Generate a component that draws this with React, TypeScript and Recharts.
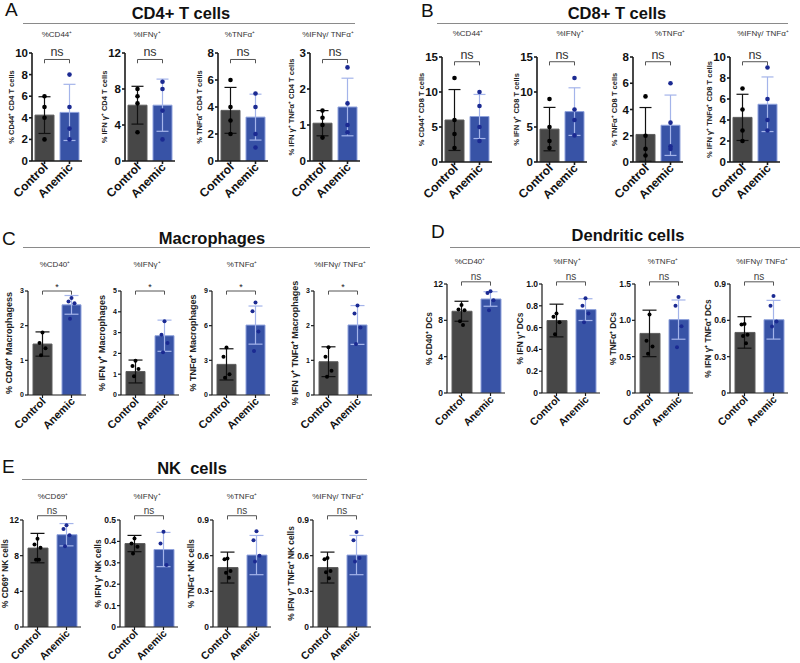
import React from 'react';
import { ComposedChart, Bar, Cell, XAxis, YAxis, Scatter, ErrorBar, ReferenceLine } from 'recharts';

// ---------- shared categories / labels ----------
const GROUPS = ['Control', 'Anemic'];

// ---------- Panel A: CD4+ T cells ----------
const cd4Titles = ['%CD44⁺', '%IFNγ⁺', '%TNFα⁺', '%IFNγ/ TNFα⁺'];
const cd4YLabels = ['% CD44⁺ CD4 T cells', '% IFN γ⁺ CD4 T cells', '% TNFα⁺ CD4 T cells', '% IFN γ⁺ TNFα⁺ CD4 T cells'];
const cd4Ticks = [[0, 2, 4, 6, 8, 10], [0, 4, 8, 12], [0, 2, 4, 6, 8], [0, 1, 2, 3]];
const cd4CtrlMean = [4.25, 6.2, 3.75, 1.05];
const cd4CtrlSd = [1.7, 2.1, 1.7, 0.35];
const cd4AnemMean = [4.5, 6.2, 3.25, 1.5];
const cd4AnemSd = [2.6, 2.9, 1.7, 0.8];
const cd4CtrlPts = [[6, 5, 4, 2], [8, 7.2, 6.4, 3.2], [6, 4, 3, 2], [1.4, 1.2, 1.0, 0.65]];
const cd4AnemPts = [[8, 5, 3, 2], [8.8, 8, 5.6, 2.4], [5, 4, 2, 1], [2.6, 1.6, 1.0, 0.8]];
const cd4Sig = ['ns', 'ns', 'ns', 'ns'];

// ---------- Panel B: CD8+ T cells ----------
const cd8Titles = ['%CD44⁺', '%IFNγ⁺', '%TNFα⁺', '%IFNγ/ TNFα⁺'];
const cd8YLabels = ['% CD44⁺ CD8 T cells', '% IFN γ⁺ CD8 T cells', '% TNFα⁺ CD8 T cells', '% IFN γ⁺ TNFα⁺ CD8 T cells'];
const cd8Ticks = [[0, 5, 10, 15], [0, 5, 10, 15], [0, 2, 4, 6, 8], [0, 2, 4, 6, 8, 10]];
const cd8CtrlMean = [6, 4.7, 2.1, 4.25];
const cd8CtrlSd = [4.35, 3.1, 2.05, 2.2];
const cd8AnemMean = [6.5, 7.2, 2.8, 5.5];
const cd8AnemSd = [3.15, 3.4, 2.3, 2.6];
const cd8CtrlPts = [[12, 6, 4, 2], [9, 5, 3, 2], [5, 2, 1, 0.5], [7, 5, 3, 2]];
const cd8AnemPts = [[10, 8, 5, 3], [12, 7.5, 6, 3.8], [6, 3, 1.2, 1], [9, 6, 4, 3]];
const cd8Sig = ['ns', 'ns', 'ns', 'ns'];

// ---------- Panel C: Macrophages ----------
const macTitles = ['%CD40⁺', '%IFNγ⁺', '%TNFα⁺', '%IFNγ/ TNFα⁺'];
const macYLabels = ['% CD40⁺ Macrophagess', '% IFN γ⁺ Macrophages', '% TNFα⁺ Macrophages', '% IFN γ⁺ TNFα⁺ Macrophages'];
const macTicks = [[0, 1, 2, 3], [0, 1, 2, 3, 4, 5], [0, 3, 6, 9], [0, 1, 2, 3]];
const macCtrlMean = [1.47, 1.13, 2.65, 0.96];
const macCtrlSd = [0.35, 0.55, 1.35, 0.43];
const macAnemMean = [2.6, 2.85, 6.05, 2.02];
const macAnemSd = [0.27, 0.75, 1.65, 0.56];
const macCtrlPts = [[1.8, 1.5, 1.35, 1.15], [1.65, 1.4, 1.25, 0.9], [4.1, 3.3, 1.8, 1.5], [1.38, 1.1, 0.7, 0.53]];
const macAnemPts = [[2.8, 2.7, 2.65, 2.2], [3.55, 2.9, 2.5, 2.05], [8, 7.25, 5.5, 3.8], [2.58, 2.35, 1.95, 1.47]];
const macSig = ['*', '*', '*', '*'];

// ---------- Panel D: Dendritic cells ----------
const dcTitles = ['%CD40⁺', '%IFNγ⁺', '%TNFα⁺', '%IFNγ/ TNFα⁺'];
const dcYLabels = ['% CD40⁺ DCs', '% IFN γ⁺ DCs', '% TNFα⁺ DCs', '% IFN γ⁺ TNFα⁺ DCs'];
const dcTicks = [[0, 4, 8, 12], [0, 0.2, 0.4, 0.6, 0.8, 1.0], [0, 0.5, 1.0, 1.5], [0, 0.3, 0.6, 0.9]];
const dcCtrlMean = [9.0, 0.665, 0.82, 0.5];
const dcCtrlSd = [1.1, 0.15, 0.32, 0.13];
const dcAnemMean = [10.35, 0.765, 1.01, 0.605];
const dcAnemSd = [0.8, 0.1, 0.27, 0.16];
const dcCtrlPts = [[9.7, 9.2, 9.1, 7.9, 7.5], [0.73, 0.7, 0.65, 0.54], [1.08, 0.72, 0.64, 0.54], [0.57, 0.565, 0.48, 0.47, 0.41]];
const dcAnemPts = [[11.2, 11, 10.2, 9.1], [0.87, 0.8, 0.73, 0.65], [1.32, 1.2, 0.92, 0.63], [0.8, 0.72, 0.59, 0.55]];
const dcSig = ['ns', 'ns', 'ns', 'ns'];

// ---------- Panel E: NK cells ----------
const nkTitles = ['%CD69⁺', '%IFNγ⁺', '%TNFα⁺', '%IFNγ/ TNFα⁺'];
const nkYLabels = ['% CD69⁺ NK cells', '% IFN γ⁺ NK cells', '% TNFα⁺ NK cells', '% IFN γ⁺ TNFα⁺ NK cells'];
const nkTicks = [[0, 4, 8, 12], [0, 0.1, 0.2, 0.3, 0.4, 0.5], [0, 0.3, 0.6, 0.9], [0, 0.3, 0.6, 0.9]];
const nkCtrlMean = [8.85, 0.39, 0.5, 0.5];
const nkCtrlSd = [1.65, 0.038, 0.13, 0.13];
const nkAnemMean = [10.35, 0.362, 0.605, 0.605];
const nkAnemSd = [1.25, 0.08, 0.165, 0.165];
const nkCtrlPts = [[9.9, 9.25, 8.9, 7.55, 7.55], [0.414, 0.39, 0.375, 0.344], [0.577, 0.57, 0.47, 0.457, 0.414], [0.58, 0.57, 0.47, 0.46, 0.41]];
const nkAnemPts = [[11.4, 11, 10.3, 9.05], [0.445, 0.39, 0.29], [0.806, 0.73, 0.6, 0.55], [0.8, 0.73, 0.58, 0.55]];
const nkSig = ['ns', 'ns', 'ns', 'ns'];

// ---------- panel headers ----------
const panelLetters = ['A', 'B', 'C', 'D', 'E'];
const panelTitles = ['CD4+ T cells', 'CD8+ T cells', 'Macrophages', 'Dendritic cells', 'NK  cells'];

// ---------- layout (positions & styles only) ----------
const FONT = '"Liberation Sans", Arial, Helvetica, sans-serif';
const C_FILL = '#474747';
const A_FILL = '#3853a6';
const C_EDGE = '#5e5e5e';
const A_EDGE = '#8fa2dc';
const C_ERR = '#111111';
const A_ERR = '#a4b4ea';
const C_DOT = '#000000';
const A_DOT = '#1b2a92';

const STYLE_AB = { YW: 34, bw: 19, cap: 6, tickFs: 11.5, ylFs: 7.5, xFs: 12, sigFs: 12.5, axisW: 1.6, dotR: 2.3, jitter: 0, minOff: 19, sigColor: '#333', sigOffset: 3 };
const STYLE_C = { YW: 30, bw: 19, cap: 7, tickFs: 7, ylFs: 9, xFs: 11, sigFs: 9, axisW: 1.2, dotR: 2.0, jitter: 1, minOff: 19, sigColor: '#222', sigOffset: 1 };
const STYLE_DE = { YW: 32, bw: 20, cap: 7, tickFs: 8.5, ylFs: 8.3, xFs: 10.5, sigFs: 10, axisW: 1.2, dotR: 2.0, jitter: 1, minOff: 18, sigColor: '#444', sigOffset: 2 };

const PANELS = [
  { letter: { x: 5, y: 0 }, title: { x: 181, y: 13, fs: 16.5 }, line: { x1: 23, x2: 355, y: 23 },
    xs: [32, 125, 218, 310], top: 53, zero: 161, plotW: 50, subX: [57, 147, 240, 328], subY: 35, bracket: 0.94, st: STYLE_AB,
    titles: cd4Titles, yl: cd4YLabels, ticks: cd4Ticks, cm: cd4CtrlMean, cs: cd4CtrlSd, am: cd4AnemMean, as: cd4AnemSd, cp: cd4CtrlPts, ap: cd4AnemPts, sig: cd4Sig },
  { letter: { x: 421, y: 1 }, title: { x: 617, y: 13, fs: 16.5 }, line: { x1: 437, x2: 788, y: 23 },
    xs: [442, 537, 633, 730], top: 57, zero: 162, plotW: 50, subX: [468, 570, 670, 763], subY: 34, bracket: 0.955, st: STYLE_AB,
    titles: cd8Titles, yl: cd8YLabels, ticks: cd8Ticks, cm: cd8CtrlMean, cs: cd8CtrlSd, am: cd8AnemMean, as: cd8AnemSd, cp: cd8CtrlPts, ap: cd8AnemPts, sig: cd8Sig },
  { letter: { x: 2, y: 229 }, title: { x: 212, y: 238, fs: 16.5 }, line: { x1: 23, x2: 370, y: 247 },
    xs: [28, 121, 212, 314], top: 291, zero: 395, plotW: 58, subX: [55, 147, 242, 340], subY: 265, bracket: 1.0, st: STYLE_C,
    titles: macTitles, yl: macYLabels, ticks: macTicks, cm: macCtrlMean, cs: macCtrlSd, am: macAnemMean, as: macAnemSd, cp: macCtrlPts, ap: macAnemPts, sig: macSig },
  { letter: { x: 431, y: 222 }, title: { x: 628, y: 235, fs: 16.5 }, line: { x1: 450, x2: 800, y: 247 },
    xs: [447, 542, 635, 730], top: 284, zero: 393, plotW: 58, subX: [470, 567, 663, 762], subY: 262, bracket: 1.02, st: STYLE_DE,
    titles: dcTitles, yl: dcYLabels, ticks: dcTicks, cm: dcCtrlMean, cs: dcCtrlSd, am: dcAnemMean, as: dcAnemSd, cp: dcCtrlPts, ap: dcAnemPts, sig: dcSig },
  { letter: { x: 2, y: 457 }, title: { x: 192, y: 468, fs: 16.5 }, line: { x1: 22, x2: 367, y: 479 },
    xs: [23, 120, 213, 313], top: 520, zero: 627, plotW: 58, subX: [53, 147, 242, 338], subY: 497, bracket: 1.04, st: STYLE_DE,
    titles: nkTitles, yl: nkYLabels, ticks: nkTicks, cm: nkCtrlMean, cs: nkCtrlSd, am: nkAnemMean, as: nkAnemSd, cp: nkCtrlPts, ap: nkAnemPts, sig: nkSig },
];

const JIT = [0, -3, 3, -1.5, 1.5];

const makeDot = (color: string, r: number, jitter: number) => (props: any) => {
  if (props.cx == null || props.cy == null) return <g />;
  const i = props.payload && props.payload.i != null ? props.payload.i : 0;
  const dx = JIT[i % JIT.length] * jitter;
  return <circle cx={props.cx + dx} cy={props.cy} r={r} fill={color} />;
};

const Empty = () => <g />;

const makeXTick = (fs: number) => (props: any) => {
  const { x, y, payload } = props;
  const ax = x + 4;
  const ay = y + 2;
  return (
    <text x={ax} y={ay} transform={`rotate(-45 ${ax} ${ay})`} textAnchor="end" fontSize={fs} fontWeight={700} fill="#111" fontFamily={FONT}>
      {payload.value}
    </text>
  );
};

function MiniChart(props: any) {
  const { x0, top, zero, plotW, ticks, yLabel, cMean, cSd, aMean, aSd, cPts, aPts, sig, bracketFrac, st } = props;
  const max = ticks[ticks.length - 1];
  const YW = st.YW;
  const MT = 24;
  const MR = 6;
  const XH = 58;
  const plotH = zero - top;
  const width = YW + plotW + MR;
  const height = MT + plotH + XH;
  const data = [
    { name: GROUPS[0], mean: cMean },
    { name: GROUPS[1], mean: aMean },
  ];
  const cErr = [{ name: GROUPS[0], v: cMean, e: cSd }];
  const aErr = [{ name: GROUPS[1], v: aMean, e: aSd }];
  const cDots = cPts.map((v: number, i: number) => ({ name: GROUPS[0], v, i }));
  const aDots = aPts.map((v: number, i: number) => ({ name: GROUPS[1], v, i }));
  const decimals = ticks.some((t: number) => !Number.isInteger(t)) ? 1 : 0;
  const fmt = (v: number) => (v === 0 ? '0' : v.toFixed(decimals));
  // estimated width of the widest tick label, to keep the axis title clear of it
  const labW = Math.max(...ticks.map((t: number) => {
    const s = fmt(t);
    let w = 0;
    for (const ch of s) w += ch === '.' ? 0.278 : 0.556;
    return w * st.tickFs;
  }));
  const ylOff = Math.max(st.minOff, 4 + labW + st.ylFs * 0.5 + (decimals ? 2 : 0));
  const b = max * bracketFrac;
  const d = max * 0.035;
  const axisStroke = '#1a1a1a';
  return (
    <div style={{ position: 'absolute', left: x0 - YW, top: top - MT, width, height }}>
      <ComposedChart width={width} height={height} data={data} margin={{ top: MT, right: MR, bottom: 0, left: 0 }}>
        <XAxis
          dataKey="name"
          type="category"
          allowDuplicatedCategory={false}
          height={XH}
          interval={0}
          tickSize={3}
          tickLine={{ stroke: axisStroke, strokeWidth: st.axisW }}
          axisLine={{ stroke: axisStroke, strokeWidth: st.axisW }}
          tick={makeXTick(st.xFs)}
        />
        <YAxis
          type="number"
          width={YW}
          domain={[0, max]}
          ticks={ticks}
          interval={0}
          allowDataOverflow
          tickFormatter={fmt}
          tickSize={3}
          tickMargin={1}
          tick={{ fontSize: st.tickFs, fontWeight: 700, fill: '#111', fontFamily: FONT }}
          tickLine={{ stroke: axisStroke, strokeWidth: st.axisW }}
          axisLine={{ stroke: axisStroke, strokeWidth: st.axisW }}
          label={{
            value: yLabel,
            angle: -90,
            position: 'insideLeft',
            offset: YW - ylOff,
            style: { textAnchor: 'middle', fontSize: st.ylFs, fontWeight: 700, fill: '#222', fontFamily: FONT },
          }}
        />
        <Bar dataKey="mean" barSize={st.bw} isAnimationActive={false}>
          <Cell fill={C_FILL} stroke={C_EDGE} strokeWidth={1} />
          <Cell fill={A_FILL} stroke={A_EDGE} strokeWidth={1} />
        </Bar>
        <Scatter data={cErr} dataKey="v" shape={Empty} isAnimationActive={false}>
          <ErrorBar dataKey="e" direction="y" width={st.cap} stroke={C_ERR} strokeWidth={1.2} isAnimationActive={false} />
        </Scatter>
        <Scatter data={aErr} dataKey="v" shape={Empty} isAnimationActive={false}>
          <ErrorBar dataKey="e" direction="y" width={st.cap} stroke={A_ERR} strokeWidth={1.2} isAnimationActive={false} />
        </Scatter>
        <Scatter data={cDots} dataKey="v" shape={makeDot(C_DOT, st.dotR, st.jitter)} isAnimationActive={false} />
        <Scatter data={aDots} dataKey="v" shape={makeDot(A_DOT, st.dotR, st.jitter)} isAnimationActive={false} />
        <ReferenceLine
          segment={[{ x: GROUPS[0], y: b }, { x: GROUPS[1], y: b }]}
          stroke="#555"
          strokeWidth={1}
          ifOverflow="visible"
          label={{ value: sig, position: 'top', offset: st.sigOffset, fontSize: st.sigFs, fill: st.sigColor, fontFamily: FONT }}
        />
        <ReferenceLine segment={[{ x: GROUPS[0], y: b }, { x: GROUPS[0], y: b - d }]} stroke="#555" strokeWidth={1} ifOverflow="visible" />
        <ReferenceLine segment={[{ x: GROUPS[1], y: b }, { x: GROUPS[1], y: b - d }]} stroke="#555" strokeWidth={1} ifOverflow="visible" />
      </ComposedChart>
    </div>
  );
}

export default function App() {
  return (
    <div style={{ position: 'absolute', left: 0, top: 0, width: 800, height: 663, background: '#fff', fontFamily: FONT, overflow: 'hidden' }}>
      {PANELS.map((p, pi) => (
        <React.Fragment key={pi}>
          <div style={{ position: 'absolute', left: p.letter.x, top: p.letter.y, fontSize: 19, lineHeight: 1, color: '#111' }}>{panelLetters[pi]}</div>
          <div style={{ position: 'absolute', left: p.title.x, top: p.title.y - p.title.fs / 2, transform: 'translateX(-50%)', fontSize: p.title.fs, lineHeight: 1, fontWeight: 700, color: '#111', whiteSpace: 'pre' }}>
            {panelTitles[pi]}
          </div>
          <div style={{ position: 'absolute', left: p.line.x1, top: p.line.y, width: p.line.x2 - p.line.x1, height: 0, borderTop: '1.3px solid #8a8a8a' }} />
          {p.titles.map((t, i) => (
            <div key={'s' + i} style={{ position: 'absolute', left: p.subX[i], top: p.subY - 4, transform: 'translateX(-50%)', fontSize: 8, lineHeight: 1, color: '#333', whiteSpace: 'nowrap' }}>
              {t}
            </div>
          ))}
          {p.xs.map((x0, i) => (
            <MiniChart
              key={'c' + i}
              x0={x0}
              top={p.top}
              zero={p.zero}
              plotW={p.plotW}
              ticks={p.ticks[i]}
              yLabel={p.yl[i]}
              cMean={p.cm[i]}
              cSd={p.cs[i]}
              aMean={p.am[i]}
              aSd={p.as[i]}
              cPts={p.cp[i]}
              aPts={p.ap[i]}
              sig={p.sig[i]}
              bracketFrac={p.bracket}
              st={p.st}
            />
          ))}
        </React.Fragment>
      ))}
    </div>
  );
}
